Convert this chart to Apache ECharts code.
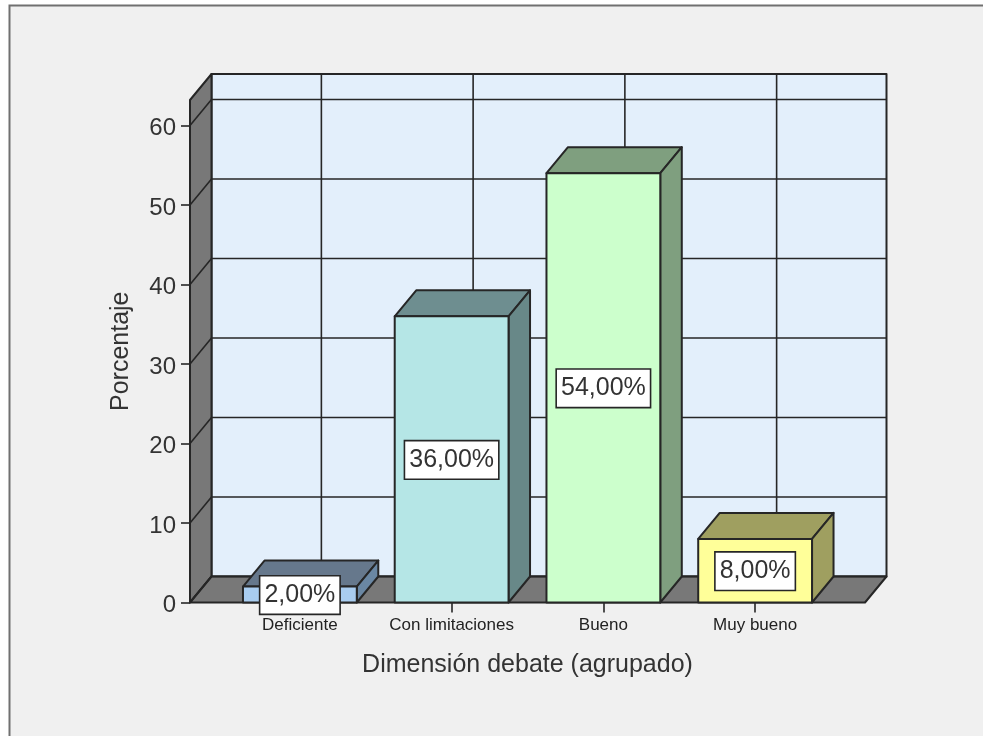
<!DOCTYPE html>
<html>
<head>
<meta charset="utf-8">
<title>Dimensión debate</title>
<script src="https://cdn.jsdelivr.net/npm/echarts@6/dist/echarts.min.js"></script>
<style>
  html, body { margin: 0; padding: 0; background: #fff; }
  #main { width: 983px; height: 736px; }
</style>
</head>
<body>
<div id="main"></div>
<script>
var categories = ["Deficiente", "Con limitaciones", "Bueno", "Muy bueno"];
var porcentajes = [2, 36, 54, 8];
var yTicks = [0, 10, 20, 30, 40, 50, 60];

var frontColors = ["#a9cdf0", "#b5e6e6", "#ccffcc", "#ffff99"];
var topColors = ["#66788c", "#6e8e90", "#7f9f7f", "#9f9f60"];
var sideColors = ["#6a87a3", "#688888", "#7f9f7f", "#9f9f60"];

var depthX = 21.5, depthY = 26;   // profundidad del efecto 3D
var sideMargin = 34;
var fontName = '"Liberation Sans", Arial, sans-serif';
var lineColor = "#262626";
var textColor = "#333";

function poly(points, fill) {
  return {
    type: "polygon",
    shape: { points: points },
    style: { fill: fill, stroke: lineColor, lineWidth: 2, lineJoin: "round" }
  };
}

function line(x1, y1, x2, y2) {
  return {
    type: "line",
    shape: { x1: x1, y1: y1, x2: x2, y2: y2 },
    style: { stroke: lineColor, lineWidth: 1.6 }
  };
}

// paredes, suelo y rejilla
function renderWalls(params, api) {
  var cs = params.coordSys;
  var left = cs.x - sideMargin;
  var right = cs.x + cs.width + sideMargin;
  var top = cs.y;
  var bottom = cs.y + cs.height;
  var children = [
    poly([[left + depthX, top - depthY], [right + depthX, top - depthY], [right + depthX, bottom - depthY], [left + depthX, bottom - depthY]], "#e3effb"),
    poly([[left, top], [left + depthX, top - depthY], [left + depthX, bottom - depthY], [left, bottom]], "#787878"),
    poly([[left, bottom], [left + depthX, bottom - depthY], [right + depthX, bottom - depthY], [right, bottom]], "#787878")
  ];
  yTicks.forEach(function (t) {
    var y = api.coord([0, t])[1];
    children.push(line(left, y, left + depthX, y - depthY));
    children.push(line(left + depthX, y - depthY, right + depthX, y - depthY));
  });
  categories.forEach(function (c, i) {
    var x = api.coord([i, 0])[0] + depthX;
    children.push(line(x, top - depthY, x, bottom - depthY));
  });
  return { type: "group", children: children };
}

function renderBar(params, api) {
  var i = params.dataIndex;
  var base = api.coord([i, 0]);
  var head = api.coord([i, api.value(1)]);
  var w = api.size([1, 0])[0] * 0.75;
  var x0 = base[0] - w / 2, x1 = base[0] + w / 2;
  var y0 = head[1], y1 = base[1];
  var text = api.value(1).toFixed(2).replace(".", ",") + "%";
  return {
    type: "group",
    children: [
      poly([[x0, y0], [x0 + depthX, y0 - depthY], [x1 + depthX, y0 - depthY], [x1, y0]], topColors[i]),
      poly([[x1, y0], [x1 + depthX, y0 - depthY], [x1 + depthX, y1 - depthY], [x1, y1]], sideColors[i]),
      poly([[x0, y0], [x1, y0], [x1, y1], [x0, y1]], frontColors[i]),
      {
        type: "text",
        style: {
          text: text,
          x: base[0],
          y: (y0 + y1) / 2 + 0.5,
          align: "center",
          verticalAlign: "middle",
          font: "25px " + fontName,
          fill: textColor,
          backgroundColor: "#fff",
          borderColor: lineColor,
          borderWidth: 1.6,
          padding: [6, 4, 6, 4]
        }
      }
    ]
  };
}

var myChart = echarts.init(document.getElementById("main"));
var option = {
  animation: false,
  backgroundColor: "#fff",
  graphic: [
    {
      type: "rect",
      z: -10,
      silent: true,
      shape: { x: 9.5, y: 5.5, width: 1000, height: 800 },
      style: { fill: "#f0f0f0", stroke: "#707070", lineWidth: 2 }
    }
  ],
  grid: { left: 224, width: 607, top: 100, height: 502.5 },
  xAxis: {
    type: "category",
    data: categories,
    name: "Dimensión debate (agrupado)",
    nameLocation: "middle",
    nameGap: 50,
    nameTextStyle: { fontFamily: fontName, fontSize: 25, color: textColor },
    axisLine: { show: false },
    axisTick: { show: true, alignWithLabel: true, length: 10, lineStyle: { color: lineColor, width: 1.6 } },
    axisLabel: { interval: 0, fontFamily: fontName, fontSize: 17, color: "#222", margin: 14 }
  },
  yAxis: {
    type: "value",
    min: 0,
    max: 63.2,
    interval: 10,
    offset: sideMargin,
    name: "Porcentaje",
    nameLocation: "middle",
    nameGap: 56,
    nameTextStyle: { fontFamily: fontName, fontSize: 25, color: textColor },
    splitLine: { show: false },
    axisLine: { show: false },
    axisTick: { show: true, length: 9, customValues: yTicks, lineStyle: { color: lineColor, width: 1.6 } },
    axisLabel: {
      margin: 14,
      customValues: yTicks,
      formatter: "{a|{value}}",
      rich: { a: { fontFamily: fontName, fontSize: 24, color: textColor, padding: [6, 0, 0, 0] } }
    }
  },
  series: [
    {
      type: "custom",
      silent: true,
      z: 1,
      data: [[0, 0]],
      renderItem: renderWalls
    },
    {
      type: "custom",
      silent: true,
      z: 2,
      data: porcentajes.map(function (v, i) { return [i, v]; }),
      encode: { x: 0, y: 1 },
      renderItem: renderBar
    }
  ]
};
myChart.setOption(option);
window.onresize = myChart.resize;
</script>
</body>
</html>
